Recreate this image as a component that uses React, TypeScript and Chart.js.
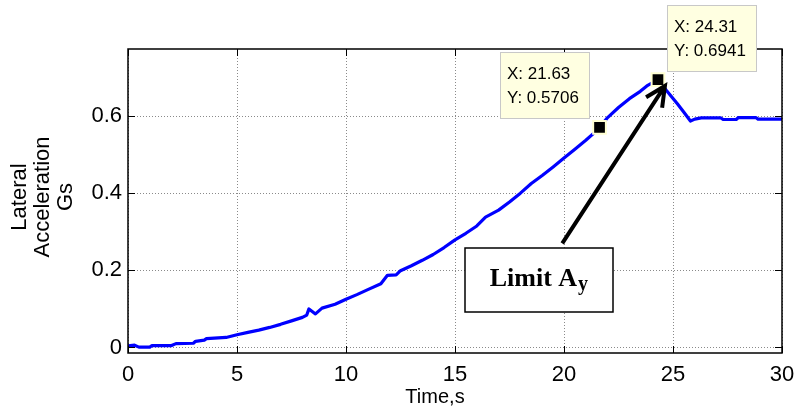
import React, { useEffect, useRef } from "react";
import { Chart, registerables } from "chart.js";

Chart.register(...registerables);

// ---- data ----
const TIME_S = [
  0, 0.3, 0.5, 1.0, 1.1, 2.0, 2.2, 3.0, 3.1, 3.5, 3.6, 4.5, 5.0, 5.5, 6.0, 6.5, 7.0, 7.5, 8.0, 8.2,
  8.3, 8.6, 8.9, 9.5, 10.0, 10.5, 11.0, 11.6, 11.9, 12.3, 12.5, 13.0, 13.5, 14.0, 14.5, 15.0, 15.5,
  16.0, 16.4, 17.0, 17.5, 18.0, 18.5, 19.0, 19.5, 20.0, 20.5, 21.0, 21.5, 21.63, 22.0, 22.5, 23.0,
  23.5, 23.8, 24.31, 24.7, 25.2, 25.5, 25.8, 26.0, 26.3, 27.2, 27.3, 27.9, 28.0, 28.8, 28.9, 30.0,
];
const LAT_ACC_G = [
  0.004, 0.006, 0.001, 0.001, 0.005, 0.005, 0.01, 0.011, 0.016, 0.019, 0.023, 0.026, 0.033, 0.039,
  0.045, 0.052, 0.06, 0.069, 0.078, 0.084, 0.1, 0.087, 0.102, 0.112, 0.125, 0.137, 0.15, 0.165,
  0.187, 0.188, 0.199, 0.212, 0.226, 0.241, 0.259, 0.279, 0.296, 0.315, 0.338, 0.356, 0.377, 0.4,
  0.425, 0.446, 0.468, 0.491, 0.514, 0.537, 0.562, 0.5706, 0.596, 0.622, 0.645, 0.664, 0.678,
  0.6941, 0.666, 0.632, 0.61, 0.587, 0.592, 0.595, 0.595, 0.591, 0.591, 0.596, 0.596, 0.592, 0.592,
];
const TIP_TIME = [21.63, 24.31];
const TIP_ACC = [0.5706, 0.6941];
const X_TICKS = [0, 5, 10, 15, 20, 25, 30];
const Y_TICKS = [0, 0.2, 0.4, 0.6];
const X_TITLE = "Time,s";
const Y_TITLE = ["Lateral", "Acceleration", "Gs"];
const LIMIT_TEXT = "Limit A";
const LIMIT_SUB = "y";
const ARROW_FROM = [19.92, 0.27];
const ARROW_TO = [24.63, 0.678];
const LIMIT_AT = [18.85, 0.175];

const SANS = "'Liberation Sans', Arial, Helvetica, sans-serif";
const SERIF = "'Liberation Serif', 'Times New Roman', serif";

const overlay = {
  id: "overlay",
  afterDraw(chart: any) {
    const { ctx, chartArea: a } = chart;
    const xs = chart.scales.x;
    const ys = chart.scales.y;
    ctx.save();

    // axes box
    ctx.strokeStyle = "#000";
    ctx.lineWidth = 1.5;
    ctx.strokeRect(a.left, a.top, a.right - a.left, a.bottom - a.top);

    // inward ticks on all four sides
    ctx.lineWidth = 1;
    ctx.beginPath();
    for (const v of X_TICKS) {
      const p = Math.round(xs.getPixelForValue(v)) + 0.5;
      ctx.moveTo(p, a.bottom);
      ctx.lineTo(p, a.bottom - 7);
      ctx.moveTo(p, a.top);
      ctx.lineTo(p, a.top + 7);
    }
    for (const v of Y_TICKS) {
      const p = Math.round(ys.getPixelForValue(v)) + 0.5;
      ctx.moveTo(a.left, p);
      ctx.lineTo(a.left + 7, p);
      ctx.moveTo(a.right, p);
      ctx.lineTo(a.right - 7, p);
    }
    ctx.stroke();

    // axis titles
    ctx.fillStyle = "#000";
    ctx.textAlign = "center";
    ctx.textBaseline = "middle";
    ctx.font = `20px ${SANS}`;
    ctx.fillText(X_TITLE, (a.left + a.right) / 2 - 20, a.bottom + 44);

    ctx.save();
    ctx.translate(43, (a.top + a.bottom) / 2 - 4);
    ctx.rotate(-Math.PI / 2);
    ctx.font = `22px ${SANS}`;
    Y_TITLE.forEach((line, i) => ctx.fillText(line, 0, (i - 1) * 23));
    ctx.restore();

    // data tips
    const tipW = 90;
    const tipH = 67;
    TIP_TIME.forEach((t, i) => {
      const px = xs.getPixelForValue(t);
      const py = ys.getPixelForValue(TIP_ACC[i]);
      const bx = Math.round(i === 0 ? px - 10 - tipW : px + 9);
      const by = Math.round(py - 8 - tipH);
      ctx.fillStyle = "#FFFFE1";
      ctx.fillRect(bx, by, tipW, tipH);
      ctx.strokeStyle = "#C8C8C8";
      ctx.lineWidth = 1;
      ctx.strokeRect(bx + 0.5, by + 0.5, tipW - 1, tipH - 1);
      ctx.fillStyle = "#000";
      ctx.font = `17px ${SANS}`;
      ctx.textAlign = "left";
      ctx.textBaseline = "middle";
      ctx.fillText(`X: ${t.toFixed(2)}`, bx + 7, by + 22);
      ctx.fillText(`Y: ${TIP_ACC[i].toFixed(4)}`, bx + 7, by + 46);
    });

    // arrow
    const x0 = xs.getPixelForValue(ARROW_FROM[0]);
    const y0 = ys.getPixelForValue(ARROW_FROM[1]);
    const x1 = xs.getPixelForValue(ARROW_TO[0]);
    const y1 = ys.getPixelForValue(ARROW_TO[1]);
    const ang = Math.atan2(y1 - y0, x1 - x0);
    ctx.strokeStyle = "#000";
    ctx.lineWidth = 4;
    ctx.lineCap = "butt";
    ctx.beginPath();
    ctx.moveTo(x0, y0);
    ctx.lineTo(x1, y1);
    ctx.moveTo(x1 + 22 * Math.cos(ang + Math.PI - 0.45), y1 + 22 * Math.sin(ang + Math.PI - 0.45));
    ctx.lineTo(x1, y1);
    ctx.lineTo(x1 + 22 * Math.cos(ang + Math.PI + 0.45), y1 + 22 * Math.sin(ang + Math.PI + 0.45));
    ctx.stroke();

    // limit label box
    const cx = xs.getPixelForValue(LIMIT_AT[0]);
    const cy = ys.getPixelForValue(LIMIT_AT[1]);
    const bw = 148;
    const bh = 64;
    const lx = Math.round(cx - bw / 2);
    const ly = Math.round(cy - bh / 2);
    ctx.fillStyle = "#fff";
    ctx.fillRect(lx, ly, bw, bh);
    ctx.strokeStyle = "#000";
    ctx.lineWidth = 1.5;
    ctx.strokeRect(lx, ly, bw, bh);
    ctx.fillStyle = "#000";
    ctx.textAlign = "left";
    ctx.textBaseline = "alphabetic";
    ctx.font = `bold 26px ${SERIF}`;
    const w1 = ctx.measureText(LIMIT_TEXT).width;
    ctx.font = `bold 20px ${SERIF}`;
    const w2 = ctx.measureText(LIMIT_SUB).width;
    const sx = cx - (w1 + w2 + 1) / 2;
    ctx.font = `bold 26px ${SERIF}`;
    ctx.fillText(LIMIT_TEXT, sx, cy + 6);
    ctx.font = `bold 20px ${SERIF}`;
    ctx.fillText(LIMIT_SUB, sx + w1 + 1, cy + 10);

    ctx.restore();
  },
};

export default function App() {
  const ref = useRef<HTMLCanvasElement | null>(null);

  useEffect(() => {
    if (!ref.current) return;
    const chart = new Chart(ref.current, {
      type: "line",
      data: {
        datasets: [
          {
            label: "tips",
            data: TIP_TIME.map((t, i) => ({ x: t, y: TIP_ACC[i] })),
            showLine: false,
            pointStyle: "rect",
            pointRadius: 9,
            pointBackgroundColor: "#000",
            pointBorderColor: "#FFFFD2",
            pointBorderWidth: 2,
            order: 0,
          },
          {
            label: "Lateral acceleration",
            data: TIME_S.map((t, i) => ({ x: t, y: LAT_ACC_G[i] })),
            borderColor: "#0000FF",
            borderWidth: 3.2,
            pointRadius: 0,
            tension: 0,
            fill: false,
            borderJoinStyle: "round",
            order: 1,
          },
        ],
      },
      options: {
        responsive: false,
        animation: false,
        devicePixelRatio: 1,
        events: [],
        layout: { padding: { top: 49, right: 13, left: 0, bottom: 0 } },
        plugins: { legend: { display: false }, tooltip: { enabled: false } },
        scales: {
          x: {
            type: "linear",
            min: 0,
            max: 30,
            afterFit: (s: any) => {
              s.height = 61;
              s.paddingLeft = 0;
              s.paddingRight = 0;
            },
            afterBuildTicks: (s: any) => {
              s.ticks = X_TICKS.map((v) => ({ value: v }));
            },
            ticks: {
              color: "#000",
              font: { family: SANS, size: 22 },
              padding: 9,
              maxRotation: 0,
              autoSkip: false,
              callback: (v: any) => String(v),
            },
            grid: { color: "#8a8a8a", lineWidth: 1, drawTicks: false },
            border: { display: false, dash: [1, 2] },
          },
          y: {
            type: "linear",
            min: -0.0143,
            max: 0.7737,
            afterFit: (s: any) => {
              s.width = 128;
              s.paddingTop = 0;
              s.paddingBottom = 0;
            },
            afterBuildTicks: (s: any) => {
              s.ticks = Y_TICKS.map((v) => ({ value: v }));
            },
            ticks: {
              color: "#000",
              font: { family: SANS, size: 22 },
              padding: 6,
              autoSkip: false,
              callback: (v: any) => String(v),
            },
            grid: { color: "#8a8a8a", lineWidth: 1, drawTicks: false },
            border: { display: false, dash: [1, 2] },
          },
        },
      },
      plugins: [overlay],
    });
    return () => chart.destroy();
  }, []);

  return (
    <div style={{ position: "absolute", left: 0, top: 0, width: 795, height: 414, background: "#fff" }}>
      <canvas ref={ref} width={795} height={414} style={{ display: "block" }} />
    </div>
  );
}
